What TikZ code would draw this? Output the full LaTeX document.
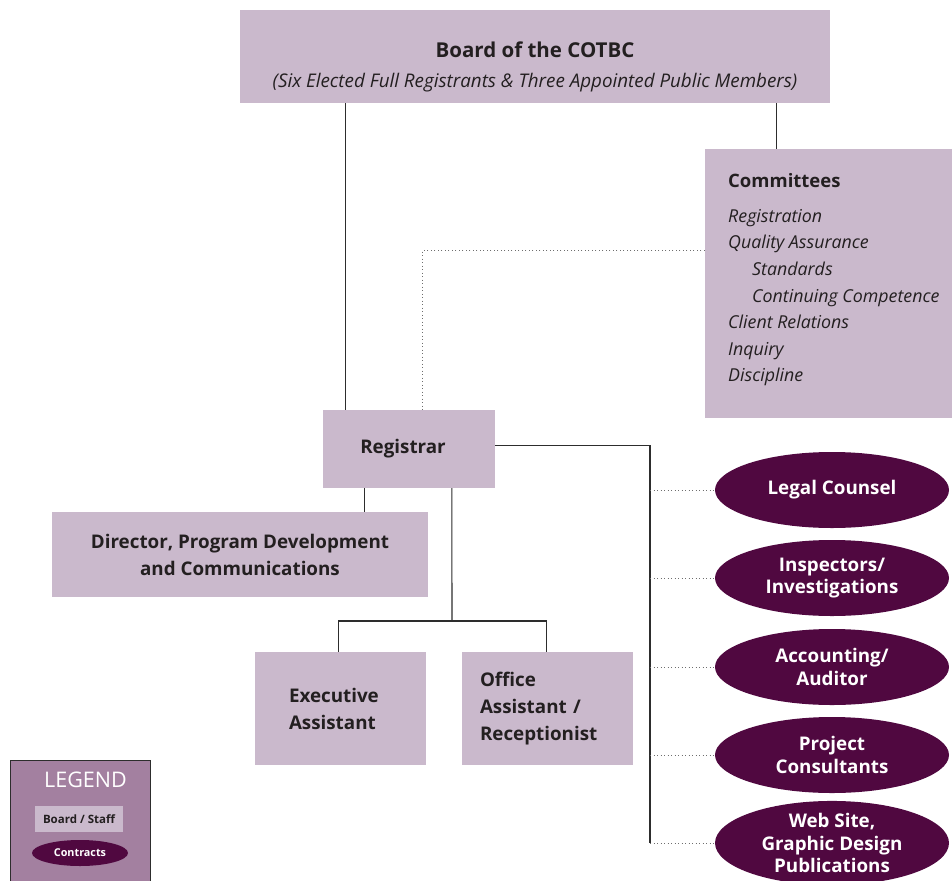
\documentclass[tikz,border=0pt]{standalone}
\usepackage{fontspec}
\setmainfont{Open Sans}
\usetikzlibrary{shapes.geometric,calc}
\definecolor{lightp}{RGB}{202,185,204}
\definecolor{darkp}{RGB}{80,8,64}
\definecolor{legendp}{RGB}{163,128,160}
\definecolor{txt}{RGB}{35,31,32}
\definecolor{linec}{RGB}{45,45,45}
\definecolor{dotc}{RGB}{110,110,110}
\tikzset{
  box/.style={rectangle, fill=lightp, draw=none, inner sep=0pt, text=txt,
    font=\bfseries\fontsize{18.8}{27}\selectfont},
  contract/.style={ellipse, fill=darkp, draw=none, inner sep=0pt,
    minimum width=234, minimum height=76, text=white, align=center,
    font=\bfseries\fontsize{18.8}{22.5}\selectfont},
  comitem/.style={anchor=base west, inner sep=0pt, text=txt,
    font=\itshape\fontsize{17.8}{20}\selectfont},
  conn/.style={draw=linec, line width=1.1pt},
  dotline/.style={draw=dotc, line width=0.9pt, dash pattern=on 0.9pt off 2.6pt},
}
\begin{document}
\begin{tikzpicture}[x=1pt,y=-1pt]
\useasboundingbox (0,0) rectangle (952,880);
% boxes
\node[box, minimum width=590, minimum height=93] (board) at (535,56.5) {};
\node[anchor=base, inner sep=0pt, text=txt, font=\bfseries\fontsize{20.5}{22}\selectfont] (boardt1) at (535,58) {Board of the COTBC};
\node[anchor=base, inner sep=0pt, text=txt, font=\itshape\fontsize{18.8}{20}\selectfont] (boardt2) at (535,88) {(Six Elected Full Registrants \& Three Appointed Public Members)};
\node[box, minimum width=248, minimum height=269] (comm) at (829,283.5) {};
\node[comitem, font=\bfseries\fontsize{18.5}{20}\selectfont] (c0) at (728,187) {Committees};
\foreach \t/\x/\y [count=\i] in {Registration/728/222, Quality Assurance/728/248, Standards/752/275, Continuing Competence/752/302, Client Relations/728/328, Inquiry/728/355, Discipline/728/381}
  \node[comitem] (c\i) at (\x,\y) {\t};
\node[box, minimum width=172, minimum height=78] (reg) at (409,449) {\hspace*{-12pt}Registrar};
\node[box, minimum width=376, minimum height=85, align=center] (dir) at (240,554.5) {Director, Program Development\\and Communications};
\node[box, minimum width=171, minimum height=113, align=left, text width=103, inner xsep=34] (exec) at (340.5,708.5) {Executive\\Assistant};
\node[box, minimum width=171, minimum height=113, align=left, text width=135, inner xsep=18] (office) at (547.5,708.5) {Office\\Assistant /\\Receptionist};
% contracts
\node[contract] (legal) at (832,490) {Legal Counsel};
\node[contract] (insp) at (832,578) {Inspectors/\\Investigations};
\node[contract] (acct) at (832,667) {Accounting/\\Auditor};
\node[contract] (proj) at (832,755) {Project\\Consultants};
\node[contract] (web) at (832,843) {Web Site,\\Graphic Design\\Publications};
% connectors
\coordinate (bus) at (650,0);
\coordinate (split) at (452,621);
\draw[conn] ([xshift=22.5]reg.north west) -- ([xshift=22.5]reg.north west |- board.south);
\draw[conn] ([xshift=72]comm.north west) -- ([xshift=72]comm.north west |- board.south);
\draw[dotline] ([yshift=33.5]comm.west) -| ([xshift=100]reg.north west);
\draw[conn] ([yshift=3.5]reg.east) -| (web.west -| bus);
\foreach \e in {legal,insp,acct,proj,web}
  \draw[dotline] (\e.west -| bus) -- (\e.west);
\draw[conn] ([xshift=42]reg.south west) -- ([xshift=42]reg.south west |- dir.north);
\draw[conn] ([xshift=129]reg.south west) -- (split);
\draw[conn] ([xshift=84]exec.north west) |- (split) -| ([xshift=85]office.north west);
% legend
\node[rectangle, fill=legendp, draw=linec, line width=1pt, minimum width=140, minimum height=124, inner sep=0pt] (legend) at (80,822) {};
\node[anchor=base, inner sep=0pt, text=white, font=\fontsize{21.5}{22}\selectfont] (legendt) at (85.5,787) {LEGEND};
\node[box, minimum width=88, minimum height=26, font=\bfseries\fontsize{11.5}{13}\selectfont] (lbox) at (79,819) {Board / Staff};
\node[contract, minimum width=96, minimum height=26, font=\bfseries\fontsize{10.8}{12}\selectfont] (lell) at (80,853) {Contracts};
\end{tikzpicture}
\end{document}
